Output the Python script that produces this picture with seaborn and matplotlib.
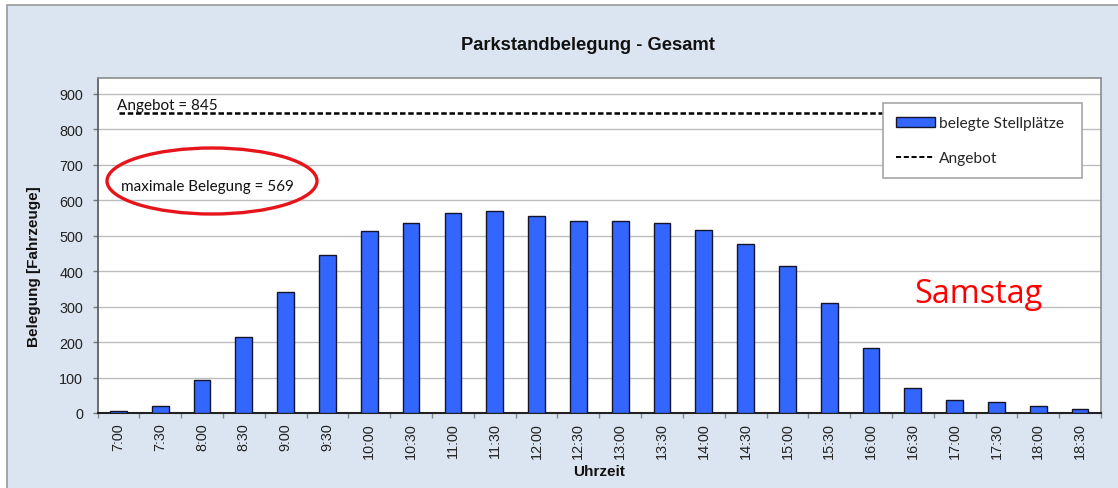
import matplotlib
matplotlib.use("Agg")
import matplotlib.pyplot as plt
from matplotlib.patches import Ellipse, Rectangle, Patch
from matplotlib.lines import Line2D
from matplotlib.ticker import FixedLocator
import seaborn as sns
import pandas as pd

# ---- data ----
times = ["7:00", "7:30", "8:00", "8:30", "9:00", "9:30", "10:00", "10:30",
         "11:00", "11:30", "12:00", "12:30", "13:00", "13:30", "14:00", "14:30",
         "15:00", "15:30", "16:00", "16:30", "17:00", "17:30", "18:00", "18:30"]
belegt = [7, 19, 94, 214, 342, 445, 513, 536,
          564, 569, 557, 541, 542, 536, 517, 477,
          415, 311, 184, 70, 38, 32, 21, 11]
angebot = 845
max_belegung = 569
y_ticks = [0, 100, 200, 300, 400, 500, 600, 700, 800, 900]

title = "Parkstandbelegung - Gesamt"
x_label = "Uhrzeit"
y_label = "Belegung [Fahrzeuge]"
legend_bars = "belegte Stellplätze"
legend_line = "Angebot"
day_label = "Samstag"

df = pd.DataFrame({"Uhrzeit": times, "Belegung": belegt})

sns.set_theme(style="white")
plt.rcParams["font.family"] = ["Liberation Sans", "DejaVu Sans"]

W, H = 1118, 489
fig = plt.figure(figsize=(W / 100, H / 100), dpi=100)
fig.patch.set_facecolor("white")

# outer chart frame
bg = "#dbe5f1"
frame = Rectangle((7 / W, -0.1), 1.2, 1.1 - 6 / H, transform=fig.transFigure,
                  facecolor=bg, edgecolor="#9a9a9a", linewidth=1.2, zorder=-10)
fig.add_artist(frame)

L, R, T, B = 97.5, 1101, 79, 414
AW, AH = R - L, B - T
ax = fig.add_axes([L / W, 1 - B / H, AW / W, AH / H])
ax.set_zorder(1)
ax.set_facecolor("white")

bar_color = "#3366ff"
edge_color = "#15152a"
sns.barplot(data=df, x="Uhrzeit", y="Belegung", ax=ax, color=bar_color,
            saturation=1, width=0.4, edgecolor=edge_color, linewidth=1.0, zorder=3)

ax.set_ylim(0, 945)
ax.set_xlim(-0.5, len(times) - 0.5)
ax.yaxis.set_major_locator(FixedLocator(y_ticks))
ax.yaxis.grid(True, color="#bdbdbd", linewidth=1.0, zorder=0)
ax.set_axisbelow(True)

# x ticks: labels at centers, tick marks at category boundaries
ax.set_xticks(range(len(times)))
ax.set_xticklabels(times, rotation=90)
ax.xaxis.set_minor_locator(FixedLocator([i - 0.5 for i in range(len(times) + 1)]))
ax.tick_params(axis="x", which="major", length=0, pad=6.5, labelsize=10.4, labelcolor="#222222")
ax.tick_params(axis="x", which="minor", length=3.6, width=1, color="#888888", direction="out", bottom=True)
ax.tick_params(axis="y", which="major", length=3.6, width=1, color="#777777", direction="out",
               left=True, pad=6.8, labelsize=10.4, labelcolor="#222222")

for s in ["top", "right"]:
    ax.spines[s].set_color("#8c8c8c")
    ax.spines[s].set_linewidth(1.2)
ax.spines["left"].set_color("#555555")
ax.spines["left"].set_linewidth(1.2)
ax.spines["bottom"].set_color("#222222")
ax.spines["bottom"].set_linewidth(1.5)

ax.set_xlabel(x_label, fontsize=11, fontweight="bold", color="#111111")
ax.set_ylabel(y_label, fontsize=11, fontweight="bold", color="#111111")
ax.xaxis.set_label_coords(0.5, -(471.7 - B) / AH)
ax.xaxis.label.set_va("center")
ax.yaxis.set_label_coords((34 - L) / AW, (B - 267) / AH)
ax.yaxis.label.set_va("center")

# supply line
ax.axhline(angebot, xmin=(119 - L) / AW, xmax=(1000 - L) / AW, color="black",
           linestyle=(0, (2.2, 1.1)), linewidth=1.8, zorder=4)

cal = ["Lato", "DejaVu Sans"]
ax.text((116.7 - L) / AW, (B - 110) / AH, f"Angebot = {angebot}", transform=ax.transAxes,
        fontsize=11, family=cal, color="#111111", va="baseline", ha="left", zorder=5)
ax.text((121.4 - L) / AW, (B - 186.7) / AH, f"maximale Belegung = {max_belegung}",
        transform=ax.transAxes, fontsize=11, family=cal, color="#111111",
        va="center", ha="left", zorder=5)
ax.add_patch(Ellipse(((212 - L) / AW, (B - 182) / AH), 210 / AW, 66 / AH,
                     transform=ax.transAxes, fill=False, edgecolor="#e8141c",
                     linewidth=2.4, zorder=6))

ax.text((914 - L) / AW, (B - 303) / AH, day_label, transform=ax.transAxes,
        fontsize=23.3, family=["Open Sans", "DejaVu Sans"], color="#ff0000",
        va="baseline", ha="left", zorder=5)

handles = [Patch(facecolor=bar_color, edgecolor=edge_color, linewidth=1.0),
           Line2D([0], [0], color="black", linestyle=(0, (2.6, 1.4)), linewidth=1.4)]
leg = ax.legend(handles, [legend_bars, legend_line], loc="upper left",
                bbox_to_anchor=((883 - L) / AW, (B - 104) / AH, (1082 - 883) / AW, 0.0),
                mode="expand",
                frameon=True, fancybox=False, shadow=False, framealpha=1,
                edgecolor="#a6a6a6", facecolor="white",
                prop={"family": cal, "size": 11.2}, handlelength=2.5, handleheight=0.64,
                handletextpad=0.26, labelspacing=1.35, borderpad=0.85, borderaxespad=0)
leg.get_frame().set_linewidth(1.2)
leg.set_zorder(10)

fig.text(588 / W, 1 - 45 / H, title, ha="center", va="center",
         fontsize=13.2, fontweight="bold", color="#111111")

fig.savefig("out.png", dpi=100)
